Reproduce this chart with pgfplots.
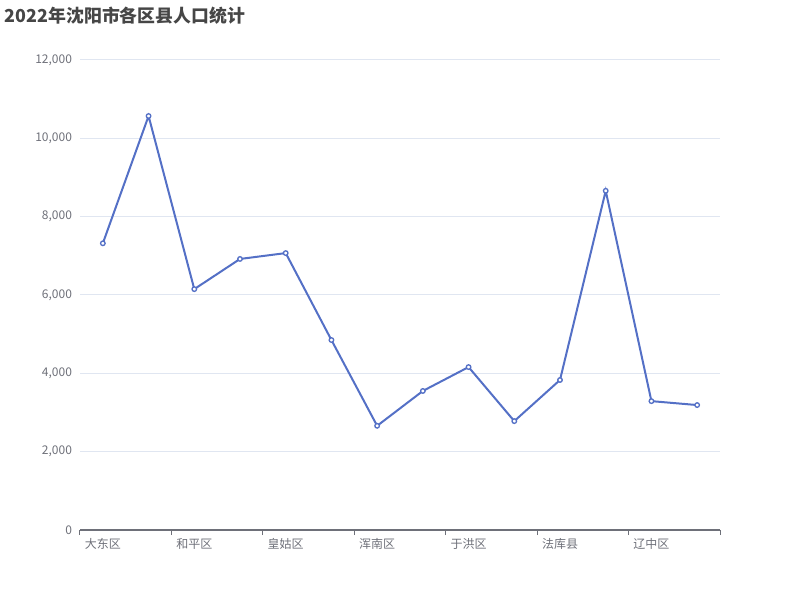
\documentclass[border=0pt]{standalone}
\usepackage{pgfplots}
\pgfplotsset{compat=1.18}
\usepackage{fontspec}
\setmainfont{Noto Sans CJK SC}
\definecolor{ln}{HTML}{5470C6}
\definecolor{lab}{HTML}{6E7079}
\definecolor{grd}{HTML}{E0E6F1}
\definecolor{ttl}{HTML}{464646}
\begin{document}
\begin{tikzpicture}[x=1pt,y=1pt]
\path[use as bounding box] (-60,-52.5) rectangle (540,397.5);
\node[anchor=west,font=\bfseries\fontsize{13.4}{15}\selectfont,text=ttl,inner sep=0pt] at (-56.5,385.5) {2022年沈阳市各区县人口统计};
\begin{axis}[
  at={(0,0)}, anchor=south west,
  scale only axis, width=480pt, height=352.5pt,
  xmin=-0.5, xmax=13.5, ymin=0, ymax=12000,
  axis x line=bottom, axis y line=left,
  axis line style={-},
  x axis line style={draw=lab, line width=0.75pt},
  y axis line style={draw=none},
  xtick={0,...,13},
  xticklabels={大东区,,和平区,,皇姑区,,浑南区,,于洪区,,法库县,,辽中区,},
  minor xtick={-0.5,1.5,...,13.5},
  major tick length=0pt,
  minor tick length=3.75pt,
  xtick align=outside,
  xtick style={draw=lab, line width=0.75pt},
  ytick={0,2000,...,12000},
  ytick style={draw=none},
  scaled y ticks=false,
  ymajorgrids,
  grid style={draw=grd, line width=0.75pt},
  tick label style={font=\fontsize{9}{10}\selectfont, text=lab},
  xticklabel style={yshift=-3pt},
  yticklabel style={xshift=-2.5pt, /pgf/number format/.cd, fixed, 1000 sep={,}, assume math mode=true},
]
\addplot[color=ln, line width=1.5pt, mark=*, mark size=1.7pt,
  mark options={fill=white, draw=ln, line width=1pt}] coordinates {
  (0,7320) (1,10570) (2,6150) (3,6920) (4,7070) (5,4850) (6,2660)
  (7,3550) (8,4160) (9,2780) (10,3830) (11,8660) (12,3290) (13,3190)
};
\end{axis}
\end{tikzpicture}
\end{document}
